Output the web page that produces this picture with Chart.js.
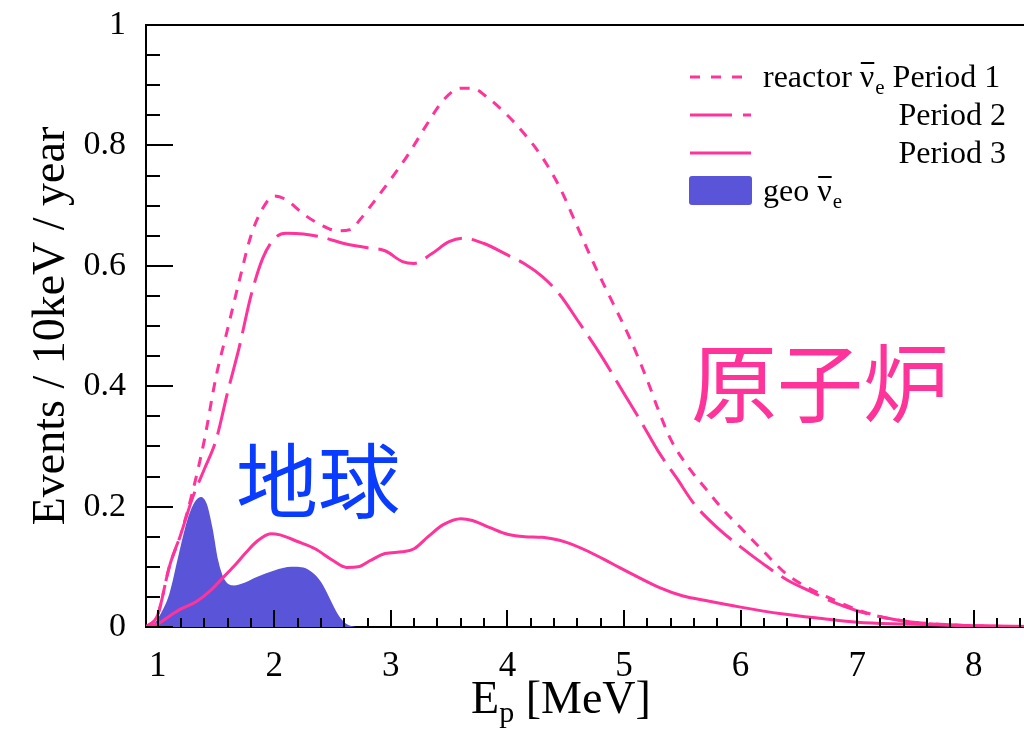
<!DOCTYPE html>
<html>
<head>
<meta charset="utf-8">
<script src="https://cdn.jsdelivr.net/npm/chart.js@4.4.1/dist/chart.umd.min.js"></script>
<style>
  html, body { margin: 0; padding: 0; background: #fff; overflow: hidden; }
  #wrap { width: 1036px; height: 732px; }
</style>
</head>
<body>
<div id="wrap"><canvas id="myChart" width="1036" height="732"></canvas></div>
<script>
// energies (MeV) and event rates
const p1E = [0.9, 1.0, 1.1, 1.2, 1.3, 1.4, 1.5, 1.6, 1.7, 1.8, 1.9, 2.0, 2.1, 2.25, 2.4, 2.55, 2.65, 2.75, 2.85, 3.0, 3.15, 3.3, 3.45, 3.6, 3.7, 3.82, 4.0, 4.15, 4.3, 4.45, 4.6, 4.75, 4.9, 5.05, 5.2, 5.3, 5.4, 5.55, 5.7, 5.85, 6.0, 6.2, 6.4, 6.6, 6.8, 7.0, 7.2, 7.4, 7.6, 8.0, 8.5];
const p1V = [0.0, 0.02, 0.1, 0.155, 0.225, 0.31, 0.415, 0.495, 0.575, 0.65, 0.695, 0.716, 0.71, 0.686, 0.668, 0.658, 0.66, 0.68, 0.705, 0.744, 0.785, 0.832, 0.875, 0.895, 0.895, 0.881, 0.85, 0.818, 0.78, 0.73, 0.665, 0.6, 0.54, 0.48, 0.41, 0.358, 0.312, 0.266, 0.23, 0.195, 0.165, 0.125, 0.087, 0.063, 0.045, 0.029, 0.017, 0.01, 0.006, 0.002, 0.0];

const p2E = [0.9, 1.0, 1.1, 1.2, 1.3, 1.4, 1.5, 1.6, 1.7, 1.8, 1.9, 2.0, 2.1, 2.25, 2.4, 2.6, 2.8, 2.95, 3.1, 3.2, 3.35, 3.5, 3.62, 3.8, 4.0, 4.15, 4.3, 4.45, 4.6, 4.8, 5.0, 5.15, 5.3, 5.45, 5.6, 5.8, 6.0, 6.2, 6.4, 6.6, 6.8, 7.0, 7.2, 7.4, 7.65, 8.0, 8.5];
const p2V = [0.0, 0.02, 0.1, 0.155, 0.215, 0.262, 0.31, 0.39, 0.465, 0.55, 0.612, 0.645, 0.654, 0.653, 0.648, 0.637, 0.63, 0.625, 0.607, 0.604, 0.62, 0.64, 0.646, 0.637, 0.618, 0.603, 0.582, 0.552, 0.51, 0.452, 0.388, 0.34, 0.29, 0.248, 0.205, 0.165, 0.133, 0.104, 0.078, 0.059, 0.041, 0.027, 0.017, 0.01, 0.005, 0.002, 0.0];

const p3E = [0.9, 1.0, 1.1, 1.2, 1.33, 1.45, 1.55, 1.65, 1.75, 1.85, 1.97, 2.05, 2.2, 2.35, 2.5, 2.62, 2.72, 2.82, 2.95, 3.1, 3.2, 3.32, 3.45, 3.6, 3.7, 3.85, 4.0, 4.15, 4.3, 4.5, 4.7, 4.9, 5.1, 5.3, 5.5, 5.7, 6.0, 6.35, 6.7, 7.0, 7.4, 8.0, 8.5];
const p3V = [0.0, 0.005, 0.018, 0.03, 0.042, 0.06, 0.08, 0.1, 0.122, 0.142, 0.155, 0.153, 0.142, 0.13, 0.111, 0.099, 0.1, 0.11, 0.122, 0.125, 0.13, 0.15, 0.17, 0.18, 0.177, 0.165, 0.154, 0.15, 0.149, 0.141, 0.125, 0.105, 0.085, 0.066, 0.052, 0.044, 0.033, 0.022, 0.014, 0.008, 0.005, 0.002, 0.001];

const geoE = [0.95, 1.02, 1.1, 1.18, 1.25, 1.31, 1.37, 1.42, 1.47, 1.52, 1.57, 1.65, 1.75, 1.85, 2.0, 2.15, 2.25, 2.33, 2.4, 2.47, 2.55, 2.62, 2.7];
const geoV = [0.0, 0.02, 0.055, 0.12, 0.175, 0.205, 0.216, 0.205, 0.165, 0.11, 0.08, 0.069, 0.074, 0.083, 0.094, 0.1, 0.099, 0.09, 0.075, 0.05, 0.02, 0.005, 0.0];

const xTickLabels = [1, 2, 3, 4, 5, 6, 7, 8];
const yTickLabels = [0, 0.2, 0.4, 0.6, 0.8, 1];

const PINK = '#ff3399';
const GEO = '#5a55d8';
const SERIF = "'Liberation Serif', 'Times New Roman', serif";

function pts(xs, ys) {
    return xs.map((x, i) => ({ x: x, y: ys[i] }));
}

// draws inward ticks, the top frame, the x title, legend and the two labels
const extras = {
    id: 'extras',
    afterDraw(chart) {
        const ctx = chart.ctx;
        const a = chart.chartArea;
        const xs = chart.scales.x, ys = chart.scales.y;
        ctx.save();
        ctx.strokeStyle = '#000';
        ctx.lineWidth = 2;
        ctx.beginPath();
        ctx.moveTo(a.left, a.top);
        ctx.lineTo(a.right, a.top);
        // x ticks every 0.2, long at integers
        for (let k = 5; k <= 42; k++) {
            const px = Math.round(xs.getPixelForValue(k / 5));
            const len = (k % 5 === 0) ? 17 : 9;
            ctx.moveTo(px, a.bottom);
            ctx.lineTo(px, a.bottom - len);
        }
        // y ticks every 0.05, long every 0.2
        for (let k = 0; k <= 20; k++) {
            const py = Math.round(ys.getPixelForValue(k / 20));
            const len = (k % 4 === 0) ? 27 : 14;
            ctx.moveTo(a.left, py);
            ctx.lineTo(a.left + len, py);
        }
        ctx.stroke();

        // x axis title with subscript
        ctx.fillStyle = '#000';
        ctx.textBaseline = 'alphabetic';
        const bigFont = '46px ' + SERIF;
        const subFont = '30px ' + SERIF;
        ctx.font = bigFont;
        const wE = ctx.measureText('E').width;
        const wRest = ctx.measureText(' [MeV]').width;
        ctx.font = subFont;
        const wP = ctx.measureText('p').width;
        const x0 = 561 - (wE + wP + wRest) / 2;
        const base = 713;
        ctx.font = bigFont;
        ctx.fillText('E', x0, base);
        ctx.font = subFont;
        ctx.fillText('p', x0 + wE, base + 9);
        ctx.font = bigFont;
        ctx.fillText(' [MeV]', x0 + wE + wP, base);

        // legend
        const lx0 = 690, lx1 = 751;
        const rows = [77, 115, 153];
        const dashes = [[10, 11], [42, 11], []];
        ctx.strokeStyle = PINK;
        ctx.lineWidth = 3;
        rows.forEach((y, i) => {
            ctx.setLineDash(dashes[i]);
            ctx.beginPath();
            ctx.moveTo(lx0, y);
            ctx.lineTo(lx1, y);
            ctx.stroke();
        });
        ctx.setLineDash([]);
        ctx.fillStyle = GEO;
        ctx.beginPath();
        ctx.roundRect(689, 176, 63, 29, 3);
        ctx.fill();

        ctx.fillStyle = '#000';
        const lf = '32px ' + SERIF;
        const nuBar = function (x, y) {
            ctx.font = lf;
            const wn = ctx.measureText('\u03bd').width;
            ctx.fillText('\u03bd', x, y);
            ctx.fillRect(x + 1, y - 25, wn - 1, 2);
            ctx.font = '21px ' + SERIF;
            ctx.fillText('e', x + wn + 1, y + 7);
            return wn + 1 + ctx.measureText('e').width;
        };
        ctx.font = lf;
        let tx = 763;
        ctx.fillText('reactor ', tx, 87);
        tx += ctx.measureText('reactor ').width;
        tx += nuBar(tx, 87);
        ctx.font = lf;
        ctx.fillText(' Period 1', tx, 87);
        ctx.textAlign = 'right';
        ctx.fillText('Period 2', 1006, 125);
        ctx.fillText('Period 3', 1006, 163);
        ctx.textAlign = 'left';
        tx = 763;
        ctx.fillText('geo ', tx, 201);
        tx += ctx.measureText('geo ').width;
        nuBar(tx, 201);

        // big labels
        ctx.textBaseline = 'middle';
        ctx.font = "82px 'Noto Sans CJK JP', sans-serif";
        ctx.fillStyle = '#0a3cff';
        ctx.fillText('地球', 236, 481);
        ctx.font = "86px 'Noto Sans CJK JP', sans-serif";
        ctx.fillStyle = PINK;
        ctx.fillText('原子炉', 691, 383);
        ctx.restore();
    }
};

function noPad(s) {
    s.paddingTop = 0;
    s.paddingBottom = 0;
    s.paddingLeft = 0;
    s.paddingRight = 0;
}

const ctx = document.getElementById('myChart').getContext('2d');
new Chart(ctx, {
    type: 'line',
    data: {
        datasets: [{
            label: 'geo',
            data: pts(geoE, geoV),
            borderWidth: 0,
            borderColor: GEO,
            backgroundColor: GEO,
            fill: 'origin',
            pointRadius: 0,
            cubicInterpolationMode: 'monotone',
            order: 4
        }, {
            label: 'Period 1',
            data: pts(p1E, p1V),
            borderColor: PINK,
            borderWidth: 3,
            borderDash: [10, 9],
            pointRadius: 0,
            fill: false,
            cubicInterpolationMode: 'monotone',
            order: 1
        }, {
            label: 'Period 2',
            data: pts(p2E, p2V),
            borderColor: PINK,
            borderWidth: 3,
            borderDash: [42, 10],
            pointRadius: 0,
            fill: false,
            cubicInterpolationMode: 'monotone',
            order: 2
        }, {
            label: 'Period 3',
            data: pts(p3E, p3V),
            borderColor: PINK,
            borderWidth: 3,
            pointRadius: 0,
            fill: false,
            cubicInterpolationMode: 'monotone',
            order: 3
        }]
    },
    options: {
        responsive: false,
        animation: false,
        layout: { padding: { left: 0, top: 25, right: 4, bottom: 0 } },
        scales: {
            x: {
                type: 'linear',
                min: 0.9,
                max: 8.5,
                grid: { display: false },
                border: { display: true, color: '#000', width: 2 },
                afterBuildTicks: (s) => { s.ticks = xTickLabels.map(v => ({ value: v })); },
                afterFit: (s) => { s.height = 105; noPad(s); },
                ticks: {
                    color: '#000',
                    padding: 11,
                    maxRotation: 0,
                    font: { family: SERIF, size: 35 },
                    callback: (v) => String(v)
                }
            },
            y: {
                min: 0,
                max: 1,
                grid: { display: false },
                border: { display: true, color: '#000', width: 2 },
                afterBuildTicks: (s) => { s.ticks = yTickLabels.map(v => ({ value: v })); },
                afterFit: (s) => { s.width = 146; noPad(s); },
                ticks: {
                    color: '#000',
                    padding: 12,
                    font: { family: SERIF, size: 34 },
                    callback: (v) => String(v)
                },
                title: {
                    display: true,
                    text: 'Events / 10keV / year',
                    color: '#000',
                    font: { family: SERIF, size: 46, lineHeight: 1.2 },
                    padding: { top: 24, bottom: 0 }
                }
            }
        },
        plugins: {
            legend: { display: false },
            tooltip: { enabled: false }
        }
    },
    plugins: [extras]
});
</script>
</body>
</html>
